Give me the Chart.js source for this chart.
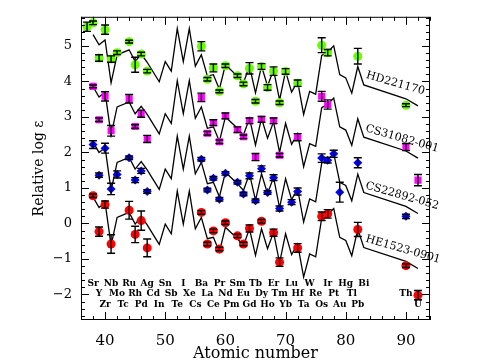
<!DOCTYPE html>
<html>
<head>
<meta charset="utf-8">
<script src="https://cdn.jsdelivr.net/npm/chart.js@4.4.1/dist/chart.umd.min.js"></script>
<style>
  body { margin: 0; background: #fff; }
</style>
</head>
<body>
<canvas id="chart" width="480" height="363"></canvas>
<script>
// scaled solar r-process curve, one per star
const curveZ = [38,39,40,41,42,44,45,46,47,49,50,51,52,53,54,55,56,57,58,59,60,62,63,64,65,66,67,68,69,70,71,72,73,74,75,76,77,78,79,80,81,82,83,90,92];
const curveHD221170 = [5.32,5.03,5.17,3.96,4.75,4.89,4.56,4.77,4.54,3.99,4.56,4.29,5.49,4.56,5.49,4.43,4.75,4.15,4.19,3.78,4.47,4.15,3.96,4.43,3.68,4.43,3.87,4.33,3.47,4.29,3.70,4.00,3.07,3.72,3.64,4.73,4.83,5.00,4.19,4.10,3.67,4.42,3.90,3.51,3.31];
const curveCS31082 = [3.85,3.56,3.70,2.49,3.28,3.42,3.09,3.30,3.07,2.52,3.09,2.82,4.02,3.09,4.02,2.96,3.28,2.68,2.72,2.31,3.00,2.68,2.49,2.96,2.21,2.96,2.40,2.86,2.00,2.82,2.23,2.53,1.60,2.25,2.17,3.26,3.36,3.53,2.72,2.63,2.20,2.95,2.43,2.04,1.84];
const curveCS22892 = [2.29,2.00,2.14,0.93,1.72,1.86,1.53,1.74,1.51,0.96,1.53,1.26,2.46,1.53,2.46,1.40,1.72,1.12,1.16,0.75,1.44,1.12,0.93,1.40,0.65,1.40,0.84,1.30,0.44,1.26,0.67,0.97,0.04,0.69,0.61,1.70,1.80,1.97,1.16,1.07,0.64,1.39,0.87,0.48,0.28];
const curveHE1523 = [0.74,0.45,0.59,-0.62,0.17,0.31,-0.02,0.19,-0.04,-0.59,-0.02,-0.29,0.91,-0.02,0.91,-0.15,0.17,-0.43,-0.39,-0.80,-0.11,-0.43,-0.62,-0.15,-0.90,-0.15,-0.71,-0.25,-1.11,-0.29,-0.88,-0.58,-1.51,-0.86,-0.94,0.15,0.25,0.42,-0.39,-0.48,-0.91,-0.16,-0.68,-1.07,-1.27];

// measured abundances
const hdZ   = [37,38,39,40,41,42,44,45,46,47,56,57,58,59,60,62,63,64,65,66,67,68,69,70,72,76,77,82,90];
const hdVal = [5.54,5.65,4.66,5.46,4.63,4.81,5.12,4.47,4.77,4.29,4.99,4.06,4.38,3.72,4.44,4.16,3.93,4.37,3.44,4.42,3.83,4.29,3.40,4.28,3.95,5.02,4.81,4.71,3.33];
const hdErr = [0.13,0.05,0.09,0.13,0.09,0.05,0.04,0.21,0.05,0.05,0.13,0.05,0.11,0.04,0.05,0.05,0.05,0.16,0.05,0.08,0.08,0.12,0.05,0.08,0.09,0.21,0.09,0.22,0.04];

const cs31Z   = [38,39,40,41,44,45,46,47,56,57,58,59,60,62,63,64,65,66,68,69,72,76,77,90,92];
const cs31Val = [3.86,2.92,3.58,2.61,3.51,2.73,3.09,2.38,3.55,2.54,2.84,2.30,3.03,2.64,2.44,2.89,1.87,2.93,2.89,1.92,2.43,3.58,3.35,2.15,1.22];
const cs31Err = [0.04,0.05,0.13,0.15,0.12,0.05,0.10,0.10,0.12,0.05,0.08,0.05,0.08,0.08,0.05,0.08,0.10,0.08,0.08,0.05,0.10,0.14,0.13,0.10,0.16];

const cs22Z   = [38,39,40,41,42,44,45,46,47,56,57,58,59,60,62,63,64,65,66,67,68,69,71,72,76,77,78,79,82,90];
const cs22Val = [2.22,1.36,2.12,0.97,1.38,1.85,1.22,1.48,0.90,1.81,0.94,1.27,0.68,1.41,1.16,0.83,1.34,0.64,1.54,0.87,1.29,0.42,0.60,0.90,1.84,1.78,1.96,0.88,1.71,0.20];
const cs22Err = [0.11,0.06,0.14,0.16,0.10,0.05,0.07,0.07,0.05,0.05,0.05,0.05,0.05,0.05,0.05,0.05,0.08,0.05,0.08,0.05,0.08,0.07,0.07,0.10,0.12,0.08,0.10,0.28,0.14,0.06];

const heZ   = [38,39,40,41,44,45,46,47,56,57,58,59,60,62,63,64,66,68,69,72,76,77,82,90,92];
const heVal = [0.78,-0.23,0.53,-0.58,0.37,-0.31,0.08,-0.69,0.31,-0.58,-0.21,-0.72,0.02,-0.35,-0.58,-0.14,0.06,-0.26,-1.09,-0.69,0.20,0.27,-0.17,-1.19,-2.02];
const heErr = [0.05,0.13,0.10,0.26,0.25,0.23,0.27,0.25,0.05,0.05,0.05,0.05,0.05,0.05,0.05,0.10,0.05,0.10,0.12,0.12,0.12,0.12,0.20,0.05,0.13];

const starNames = ['HD221170', 'CS31082-001', 'CS22892-052', 'HE1523-0901'];

// element symbols, three staggered rows
const elemRow1 = ['Sr','Nb','Ru','Ag','Sn','I','Ba','Pr','Sm','Tb','Er','Lu','W','Ir','Hg','Bi'];
const elemRow1Z = [38,41,44,47,50,53,56,59,62,65,68,71,74,77,80,83];
const elemRow2 = ['Y','Mo','Rh','Cd','Sb','Xe','La','Nd','Eu','Dy','Tm','Hf','Re','Pt','Tl','Th'];
const elemRow2Z = [39,42,45,48,51,54,57,60,63,66,69,72,75,78,81,90];
const elemRow3 = ['Zr','Tc','Pd','In','Te','Cs','Ce','Pm','Gd','Ho','Yb','Ta','Os','Au','Pb','U'];
const elemRow3Z = [40,43,46,49,52,55,58,61,64,67,70,73,76,79,82,92];

const xTickLabels = [40, 50, 60, 70, 80, 90];
const yTickLabels = [-2, -1, 0, 1, 2, 3, 4, 5];

const serif = '"DejaVu Serif", "Liberation Serif", serif';

function pts(z, v) {
    return z.map((x, i) => ({ x: x, y: v[i] }));
}

function curve(vals) {
    return {
        data: pts(curveZ, vals),
        showLine: true,
        borderColor: '#000',
        borderWidth: 1.3,
        pointRadius: 0,
        fill: false,
        order: 2
    };
}

function stars(z, v, err, color, style, r) {
    return {
        data: pts(z, v),
        err: err,
        pointStyle: style,
        pointRadius: r,
        backgroundColor: color,
        borderColor: color,
        borderWidth: 0,
        showLine: false,
        order: 1
    };
}

const decor = {
    id: 'decor',
    afterDatasetsDraw(chart) {
        const { ctx, chartArea: a, scales: { x, y } } = chart;
        ctx.save();

        // error bars
        ctx.strokeStyle = '#000';
        ctx.lineWidth = 1.4;
        chart.data.datasets.forEach(ds => {
            if (!ds.err) return;
            ds.data.forEach((p, i) => {
                const px = x.getPixelForValue(p.x);
                const y1 = y.getPixelForValue(p.y - ds.err[i]);
                const y2 = y.getPixelForValue(p.y + ds.err[i]);
                ctx.beginPath();
                ctx.moveTo(px, y1); ctx.lineTo(px, y2);
                ctx.moveTo(px - 4, y1); ctx.lineTo(px + 4, y1);
                ctx.moveTo(px - 4, y2); ctx.lineTo(px + 4, y2);
                ctx.stroke();
            });
        });

        // frame and inward ticks
        ctx.lineWidth = 1;
        ctx.strokeRect(a.left + 0.5, a.top + 0.5, a.width - 1, a.height - 1);
        ctx.beginPath();
        for (let v = 36; v <= 94; v += 2) {
            const px = Math.round(x.getPixelForValue(v)) + 0.5;
            const len = v % 10 === 0 ? 8 : 4;
            ctx.moveTo(px, a.bottom); ctx.lineTo(px, a.bottom - len);
            ctx.moveTo(px, a.top); ctx.lineTo(px, a.top + len);
        }
        for (let k = -13; k <= 29; k++) {
            const py = Math.round(y.getPixelForValue(k * 0.2)) + 0.5;
            const len = k % 5 === 0 ? 8 : 4;
            ctx.moveTo(a.left, py); ctx.lineTo(a.left + len, py);
            ctx.moveTo(a.right, py); ctx.lineTo(a.right - len, py);
        }
        ctx.stroke();

        // element symbols
        ctx.fillStyle = '#000';
        ctx.font = 'bold 9px ' + serif;
        ctx.textAlign = 'center';
        ctx.textBaseline = 'middle';
        [[elemRow1, elemRow1Z, -1.71], [elemRow2, elemRow2Z, -1.98], [elemRow3, elemRow3Z, -2.28]].forEach(([names, zs, lv]) => {
            names.forEach((n, i) => {
                ctx.fillText(n, x.getPixelForValue(zs[i]), y.getPixelForValue(lv));
            });
        });

        // star names along the curve tails
        const spots = [[83.3, 4.1], [83.2, 2.6], [83.2, 0.99], [83.2, -0.51]];
        ctx.font = '11px ' + serif;
        ctx.textAlign = 'left';
        ctx.textBaseline = 'alphabetic';
        starNames.forEach((n, i) => {
            ctx.save();
            ctx.translate(x.getPixelForValue(spots[i][0]), y.getPixelForValue(spots[i][1]));
            ctx.rotate(16 * Math.PI / 180);
            ctx.fillText(n, 0, 0);
            ctx.restore();
        });

        ctx.restore();
    }
};

new Chart(document.getElementById('chart'), {
    type: 'scatter',
    data: {
        datasets: [
            curve(curveHD221170),
            curve(curveCS31082),
            curve(curveCS22892),
            curve(curveHE1523),
            stars(hdZ, hdVal, hdErr, '#66ff00', 'circle', 4.5),
            stars(cs31Z, cs31Val, cs31Err, '#ff00ff', 'rect', 5),
            stars(cs22Z, cs22Val, cs22Err, '#0000ff', 'rectRot', 4.5),
            stars(heZ, heVal, heErr, '#ff0000', 'circle', 4.5)
        ]
    },
    options: {
        responsive: false,
        devicePixelRatio: 1,
        animation: false,
        layout: { padding: { left: 0, top: 13, right: 50, bottom: 0 } },
        plugins: {
            legend: { display: false },
            tooltip: { enabled: false }
        },
        scales: {
            x: {
                type: 'linear',
                min: 36,
                max: 94,
                grid: { display: false, drawTicks: false },
                border: { display: false },
                afterBuildTicks: s => { s.ticks = xTickLabels.map(v => ({ value: v })); },
                afterFit: s => { s.height = 43; },
                ticks: {
                    autoSkip: false,
                    maxRotation: 0,
                    padding: 12,
                    color: '#000',
                    font: { family: serif, size: 15 }
                },
                title: {
                    display: true,
                    text: 'Atomic number',
                    color: '#000',
                    font: { family: serif, size: 16 },
                    padding: { top: 0, bottom: 0 }
                }
            },
            y: {
                type: 'linear',
                min: -2.72,
                max: 5.82,
                grid: { display: false, drawTicks: false },
                border: { display: false },
                afterBuildTicks: s => { s.ticks = yTickLabels.map(v => ({ value: v })); },
                afterFit: s => { s.width = 81; },
                ticks: {
                    autoSkip: false,
                    padding: 9,
                    color: '#000',
                    font: { family: serif, size: 13 },
                    callback: v => String(v).replace('-', '\u2212')
                },
                title: {
                    display: true,
                    text: 'Relative log \u03b5',
                    color: '#000',
                    font: { family: serif, size: 14 },
                    padding: { top: 31, bottom: 0 }
                }
            }
        }
    },
    plugins: [decor]
});
</script>
</body>
</html>
